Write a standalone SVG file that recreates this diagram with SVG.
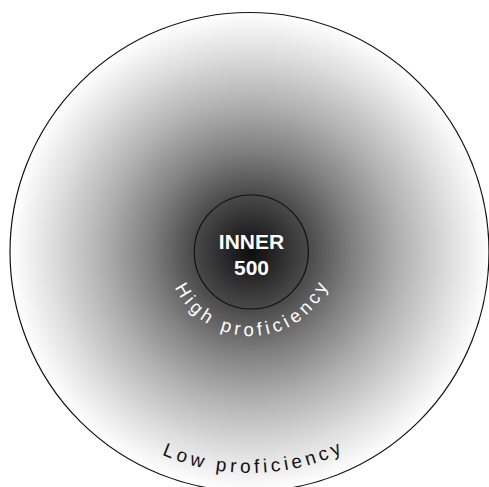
<svg xmlns="http://www.w3.org/2000/svg" width="489" height="487" viewBox="0 0 489 487">
<style>
.lbl{font-family:"Liberation Sans",Arial,sans-serif;}
.inner{font-size:21px;font-weight:bold;fill:#fff;text-anchor:middle;}
.arc{text-anchor:middle;}
</style>
<defs>
<radialGradient id="g" gradientUnits="userSpaceOnUse" cx="251" cy="252" r="240">
<stop offset="0" stop-color="#0d0d0d"/>
<stop offset="0.24" stop-color="#4a4a4a"/>
<stop offset="0.42" stop-color="#7f7f7f"/>
<stop offset="0.62" stop-color="#b1b1b1"/>
<stop offset="0.83" stop-color="#dedede"/>
<stop offset="1" stop-color="#ffffff"/>
</radialGradient>
<path id="pHigh" d="M 167,252 A 84 84 0 0 0 335,252"/>
<path id="pLow" d="M 29,252 A 221 221 0 0 0 471,252"/>
</defs>
<rect width="489" height="487" fill="#fff"/>
<g id="outer">
<circle cx="249.5" cy="252" r="239.5" fill="url(#g)" stroke="#111" stroke-width="1.2"/>
<text class="lbl arc" font-size="19" letter-spacing="3.9" fill="#111"><textPath href="#pLow" startOffset="50.6%">Low proficiency</textPath></text>
</g>
<g id="inner">
<circle cx="251.3" cy="252" r="57" fill="none" stroke="#111" stroke-width="1.2"/>
<text class="lbl inner" x="251.5" y="249">INNER</text>
<text class="lbl inner" x="251.5" y="275">500</text>
<text class="lbl arc" font-size="18.5" letter-spacing="4" fill="#fff"><textPath href="#pHigh" startOffset="51%">High proficiency</textPath></text>
</g>
</svg>
